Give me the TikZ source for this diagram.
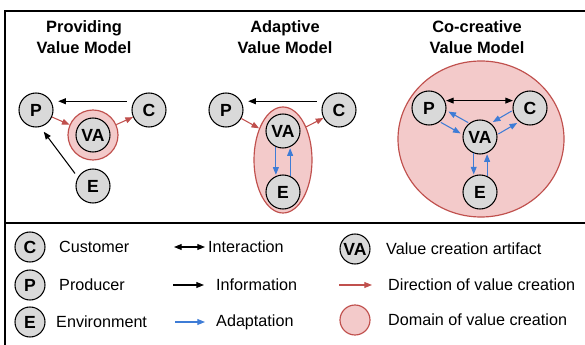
\documentclass[tikz,border=0pt]{standalone}
\usepackage{fontspec}
\setmainfont{Liberation Sans}
\usetikzlibrary{arrows.meta,shapes.geometric}
\definecolor{vcred}{RGB}{192,80,77}
\definecolor{vcpink}{RGB}{243,202,202}
\definecolor{adblue}{RGB}{62,124,214}
\definecolor{actgray}{RGB}{217,217,217}

\begin{document}
\begin{tikzpicture}[x=0.03cm,y=-0.03cm,
		actor/.style={circle,draw,line width=0.9pt,fill=actgray,minimum size=1.02cm,inner sep=0pt,font=\fontsize{15}{17}\selectfont\bfseries},
		keyactor/.style={actor,minimum size=0.9cm},
		vcdomain/.style={draw=vcred,line width=1pt,fill=vcpink,inner sep=0pt},
		info/.style={-{Triangle[length=6.5pt,width=5pt]},line width=0.9pt},
		interact/.style={{Triangle[length=6.5pt,width=5pt]}-{Triangle[length=6.5pt,width=5pt]},line width=0.9pt},
		valflow/.style={-{Triangle[length=6.5pt,width=5pt]},color=vcred,line width=0.9pt},
		adapt/.style={-{Triangle[length=6.5pt,width=5pt]},color=adblue,line width=0.9pt},
		title/.style={font=\fontsize{14}{18}\selectfont\bfseries,align=center},
		keytext/.style={anchor=west,inner sep=0pt,font=\fontsize{13.8}{16}\selectfont}]
		\useasboundingbox (0,0) rectangle (585,345);
		
		% frame
		\draw[line width=1.4pt] (5,345) -- (5,11) -- (585,11);
		\draw[line width=1.4pt] (5,223) -- (585,223);
		
		\node[title] (t1) at (84,37) {Providing\\Value Model};
		\node[title] (t2) at (285,37) {Adaptive\\Value Model};
		\node[title] (t3) at (477,37) {Co-creative\\Value Model};
		
		% providing
		\node[vcdomain,circle,minimum size=1.5cm] (dom1) at (93,135) {};
		\node[actor] (va1) at (93,135) {VA};
		\node[actor] (p1) at (36,110) {P};
		\node[actor] (c1) at (149,110) {C};
		\node[actor] (e1) at (93,186) {E};
		\draw[info,shorten <=6pt,shorten >=6pt] (c1.150) -- (p1.30);
		\draw[valflow] (p1) -- (dom1);
		\draw[valflow] (dom1) -- (c1);
		\draw[info,shorten <=4pt,shorten >=5pt] (e1.150) -- (p1.-76);
		
		% adaptive
		\node[vcdomain,ellipse,minimum width=1.74cm,minimum height=3.18cm] (dom2) at (283,160) {};
		\node[actor] (va2) at (283,131) {VA};
		\node[actor] (p2) at (226,110) {P};
		\node[actor] (c2) at (339,110) {C};
		\node[actor] (e2) at (283,192) {E};
		\draw[info,shorten <=6pt,shorten >=6pt] (c2.150) -- (p2.30);
		\draw[valflow] (p2) -- (dom2.127);
		\draw[valflow] (dom2.55) -- (c2);
		\draw[adapt,shorten >=1pt] (va2.-114) -- (e2.114);
		\draw[adapt,shorten >=1pt] (e2.66) -- (va2.-66);
		
		% co-creative
		\node[vcdomain,ellipse,minimum width=4.98cm,minimum height=4.68cm] (dom3) at (481,139) {};
		\node[actor] (va3) at (480,137) {VA};
		\node[actor] (p3) at (429,108) {P};
		\node[actor] (c3) at (530,108) {C};
		\node[actor] (e3) at (480,192) {E};
		\draw[interact,shorten <=1pt,shorten >=1pt] (p3.25) -- (c3.155);
		\draw[adapt,shorten <=1pt,shorten >=2pt] (p3.-52) -- (va3.172);
		\draw[adapt,shorten <=1pt,shorten >=2pt] (va3.128) -- (p3.-8);
		\draw[adapt,shorten <=1pt,shorten >=2pt] (c3.188) -- (va3.52);
		\draw[adapt,shorten <=1pt,shorten >=2pt] (va3.8) -- (c3.232);
		\draw[adapt,shorten >=1pt] (va3.-111) -- (e3.111);
		\draw[adapt,shorten >=1pt] (e3.66) -- (va3.-66);
		
		% legend
		\node[keyactor] (kc) at (30,247) {C};
		\node[keyactor] (kp) at (30,285) {P};
		\node[keyactor] (ke) at (30,322) {E};
		\node[keytext] (kct) at (59,247) {Customer};
		\node[keytext] (kpt) at (59,285) {Producer};
		\node[keytext] (ket) at (56,322) {Environment};
		
		\coordinate (ki1) at (174,247);
		\coordinate (ki2) at (205,247);
		\coordinate (kn1) at (173,285);
		\coordinate (kn2) at (204,285);
		\coordinate (ka1) at (175,322);
		\coordinate (ka2) at (205,322);
		\draw[interact] (ki1) -- (ki2);
		\draw[info] (kn1) -- (kn2);
		\draw[adapt] (ka1) -- (ka2);
		\node[keytext] (kit) at (208,247) {Interaction};
		\node[keytext] (knt) at (216,285) {Information};
		\node[keytext] (kat) at (216,322) {Adaptation};
		
		\node[keyactor] (kva) at (355,249) {VA};
		\coordinate (kv1) at (339,285);
		\coordinate (kv2) at (372,285);
		\draw[valflow] (kv1) -- (kv2);
		\node[vcdomain,circle,minimum size=0.9cm] (kdom) at (355,320) {};
		\node[keytext] (kvat) at (386,249) {Value creation artifact};
		\node[keytext] (kvft) at (388,285) {Direction of value creation};
		\node[keytext] (kdt) at (388,320) {Domain of value creation};
\end{tikzpicture}
\end{document}
